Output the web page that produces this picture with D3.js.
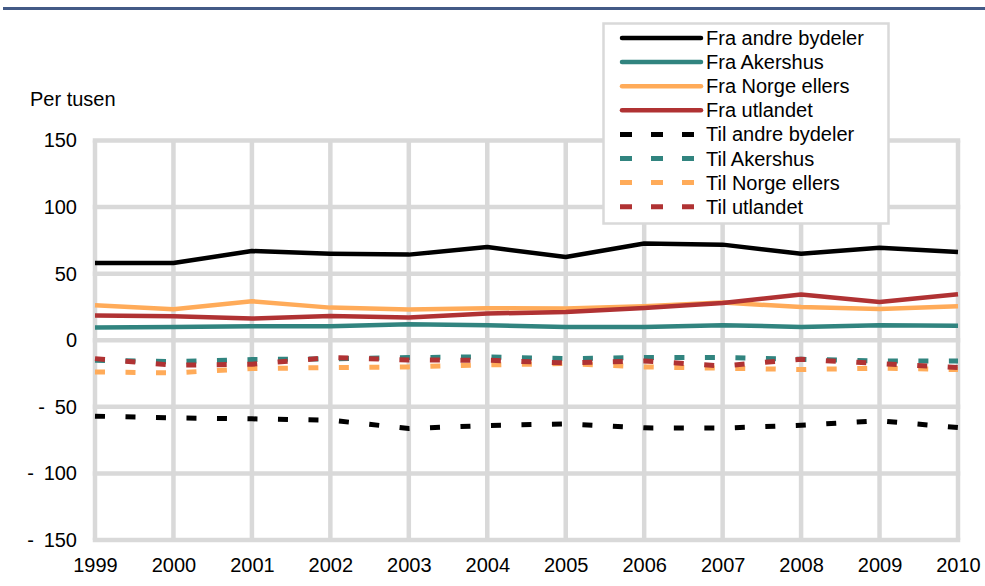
<!DOCTYPE html>
<html>
<head>
<meta charset="utf-8">
<script src="https://cdn.jsdelivr.net/npm/d3@7"></script>
<style>
  html, body { margin: 0; padding: 0; background: #fff; }
  svg { display: block; font-family: "Liberation Sans", Arial, sans-serif; }
</style>
</head>
<body>
<svg id="chart" width="985" height="586"></svg>
<script>
// Flyttinger per tusen innbyggere, 1999–2010
const years = [1999, 2000, 2001, 2002, 2003, 2004, 2005, 2006, 2007, 2008, 2009, 2010];
const yTicks = [150, 100, 50, 0, -50, -100, -150];

const fraAndreBydeler = [58, 58, 67, 65, 64.3, 70, 62.5, 72.6, 71.8, 65, 69.5, 66.3];
const fraAkershus     = [9.5, 10, 10.5, 10.5, 12, 11.3, 10, 10, 11.3, 10, 11.3, 10.8];
const fraNorgeEllers  = [26.3, 23.3, 29.3, 24.5, 23, 24, 23.8, 25.5, 28.3, 25, 23.5, 25.5];
const fraUtlandet     = [18.5, 18, 16.3, 18.3, 17, 20, 21.3, 24.3, 28, 34.3, 28.8, 34.5];
const tilAndreBydeler = [-57, -58.3, -59, -60, -66.3, -64, -62.8, -65.8, -66, -63.8, -60.5, -65.6];
const tilAkershus     = [-15, -16, -14.5, -14, -13, -12.5, -13.8, -13, -13, -14.3, -15.5, -15.5];
const tilNorgeEllers  = [-23.8, -24.5, -21.3, -20.5, -20, -18.5, -17.5, -20, -21, -22, -21, -22];
const tilUtlandet     = [-13.8, -18.8, -18, -13, -14.8, -15, -17, -15.5, -19.3, -14.3, -17.5, -20.5];

const seriesNames = ["Fra andre bydeler", "Fra Akershus", "Fra Norge ellers", "Fra utlandet",
                     "Til andre bydeler", "Til Akershus", "Til Norge ellers", "Til utlandet"];
const seriesValues = [fraAndreBydeler, fraAkershus, fraNorgeEllers, fraUtlandet,
                      tilAndreBydeler, tilAkershus, tilNorgeEllers, tilUtlandet];
const seriesColors = ["#000000", "#31847f", "#ffab59", "#b03233",
                      "#000000", "#31847f", "#ffab59", "#b03233"];
const seriesDashed = [false, false, false, false, true, true, true, true];

const svg = d3.select("#chart");
const gridColor = "#d9d9d9";
const fontSize = 20;
const fontFamily = "'Liberation Sans', Arial, sans-serif";

// header rule
svg.append("line")
  .attr("x1", 3).attr("x2", 985).attr("y1", 8.5).attr("y2", 8.5)
  .attr("stroke", "#435a86").attr("stroke-width", 3);

const x = d3.scalePoint().domain(years).range([95, 958]);
const y = d3.scaleLinear().domain([-150, 150]).range([540, 140.5]);

// grid
const grid = svg.append("g");
grid.selectAll("line.h").data(yTicks).join("line")
  .attr("x1", x(years[0]) - 2.25).attr("x2", x(years[years.length - 1]) + 2.25)
  .attr("y1", d => y(d)).attr("y2", d => y(d))
  .attr("stroke", gridColor).attr("stroke-width", 4.5);
grid.selectAll("line.v").data(years).join("line")
  .attr("x1", d => x(d)).attr("x2", d => x(d))
  .attr("y1", y(150)).attr("y2", y(-150))
  .attr("stroke", gridColor).attr("stroke-width", 4.5);

// y axis labels; negatives get an accounting-style sign set apart from the number
const yAxis = d3.axisLeft(y).tickValues(yTicks).tickFormat(d => String(Math.abs(d)))
  .tickSize(0).tickPadding(0);
const yg = svg.append("g").attr("transform", "translate(77,0)").call(yAxis);
yg.select(".domain").remove();
yg.selectAll("text").attr("font-size", fontSize).attr("fill", "#000")
  .attr("font-family", fontFamily);
yg.selectAll(".tick").filter(d => d < 0).each(function () {
  const t = d3.select(this).select("text");
  const w = t.node().getComputedTextLength();
  d3.select(this).append("text")
    .attr("x", -(w + 16.5)).attr("dy", "0.32em")
    .attr("text-anchor", "start")
    .attr("font-size", fontSize).attr("font-family", fontFamily).attr("fill", "#000")
    .text("-");
});

// x axis labels
const xAxis = d3.axisBottom(x).tickSize(0).tickPadding(0);
const xg = svg.append("g").attr("transform", "translate(0,558)").call(xAxis);
xg.select(".domain").remove();
xg.selectAll("text").attr("font-size", fontSize).attr("fill", "#000")
  .attr("font-family", fontFamily);

svg.append("text").attr("x", 30).attr("y", 106).attr("font-size", fontSize).text("Per tusen");

// series
const line = d3.line().x((d, i) => x(years[i])).y(d => y(d));
const plot = svg.append("g");
// dashed series drawn first, then solid
[4, 5, 6, 7, 0, 1, 2, 3].forEach(k => {
  plot.append("path")
    .attr("d", line(seriesValues[k]))
    .attr("fill", "none")
    .attr("stroke", seriesColors[k])
    .attr("stroke-width", seriesDashed[k] ? 5 : 4.5)
    .attr("stroke-linejoin", "round")
    .attr("stroke-dasharray", seriesDashed[k] ? "10,20.5" : null);
});

// legend
const lg = svg.append("g");
lg.append("rect").attr("x", 603.5).attr("y", 23.5).attr("width", 285).attr("height", 200)
  .attr("fill", "#fff").attr("stroke", gridColor).attr("stroke-width", 2.5);
seriesNames.forEach((name, i) => {
  const cy = 38 + i * 24.1;
  if (seriesDashed[i]) {
    lg.append("line").attr("x1", 620).attr("x2", 700).attr("y1", cy).attr("y2", cy)
      .attr("stroke", seriesColors[i]).attr("stroke-width", 5)
      .attr("stroke-dasharray", "12,19");
  } else {
    lg.append("line").attr("x1", 622).attr("x2", 701).attr("y1", cy).attr("y2", cy)
      .attr("stroke", seriesColors[i]).attr("stroke-width", 4.5)
      .attr("stroke-linecap", "round");
  }
  lg.append("text").attr("x", 706).attr("y", cy + 7).attr("font-size", fontSize).text(name);
});
</script>
</body>
</html>
